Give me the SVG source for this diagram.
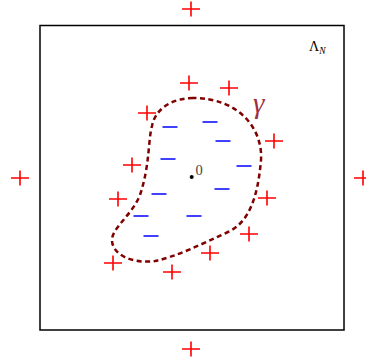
<svg xmlns="http://www.w3.org/2000/svg" xmlns:xlink="http://www.w3.org/1999/xlink" width="366" height="363" viewBox="0 0 366 363">
<style>
.plus{stroke:#ff0000;stroke-width:1.6;fill:none}
.minus{stroke:#0000ff;stroke-width:1.5;fill:none}
.box{stroke:#000;stroke-width:1.5;fill:none}
.curve{stroke:#800000;stroke-width:2.5;fill:none;stroke-dasharray:5 3.5}
.lbl{font-family:"Liberation Serif",serif;fill:#000}
</style>
<defs>
<g id="p"><path class="plus" d="M-9 0H9M0 -7.5V7.5"/></g>
<g id="m"><path class="minus" d="M-7.5 0H7.5"/></g>
</defs>
<rect id="box" class="box" x="40" y="25.5" width="304" height="304.5"/>
<g id="connectors">
<path id="gamma-curve" class="curve" d="M193 98C176 98 156 106 152 126C148 140 150 165 140 195C132 215 112 228 112 240C112 256 135 264 155 261C175 257 200 245 228 232C250 222 258 195 261 160C263 130 240 98 193 98Z"/>
</g>
<g id="outer-plus">
<use href="#p" x="191" y="9"/>
<use href="#p" x="20" y="178"/>
<use href="#p" x="363" y="178"/>
<use href="#p" x="191" y="349"/>
</g>
<g id="inner-plus">
<use href="#p" x="189" y="83"/>
<use href="#p" x="229" y="88"/>
<use href="#p" x="147" y="113"/>
<use href="#p" x="274" y="141"/>
<use href="#p" x="132" y="165"/>
<use href="#p" x="118" y="199"/>
<use href="#p" x="267" y="198"/>
<use href="#p" x="249" y="234"/>
<use href="#p" x="210" y="253"/>
<use href="#p" x="113" y="263"/>
<use href="#p" x="172" y="272"/>
</g>
<g id="minus">
<use href="#m" x="170" y="127"/>
<use href="#m" x="210" y="122"/>
<use href="#m" x="223" y="141"/>
<use href="#m" x="168" y="159"/>
<use href="#m" x="244" y="166"/>
<use href="#m" x="222" y="189"/>
<use href="#m" x="159" y="194"/>
<use href="#m" x="141" y="216"/>
<use href="#m" x="194" y="216"/>
<use href="#m" x="151" y="236"/>
</g>
<g id="origin">
<circle cx="191.7" cy="177" r="2" fill="#000"/>
<text class="lbl" x="195.5" y="175" font-size="14.5" style="fill:#444">0</text>
</g>
<g id="gamma">
<text class="lbl" x="253" y="113" font-size="29" font-style="italic" style="fill:#a03040">γ</text>
</g>
<g id="lambda">
<text class="lbl" x="309" y="51" font-size="14">Λ<tspan font-size="9.5" font-style="italic" dy="3">N</tspan></text>
</g>
</svg>
